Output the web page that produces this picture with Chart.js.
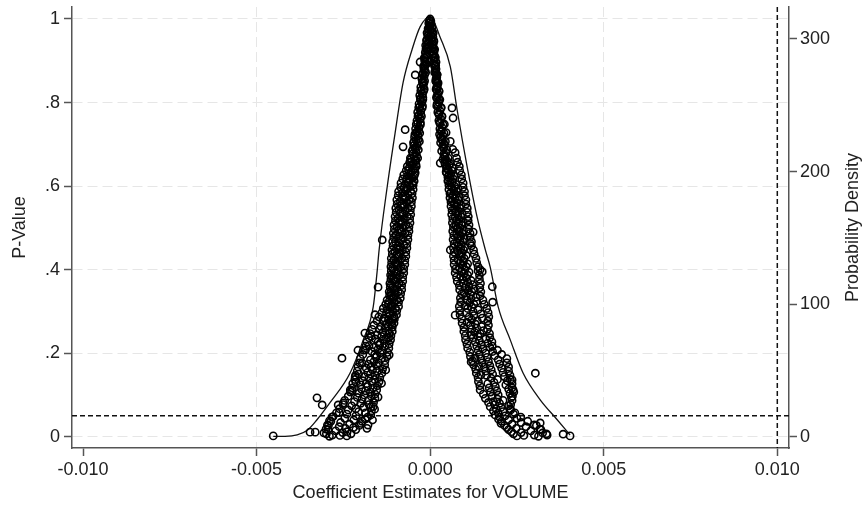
<!DOCTYPE html>
<html>
<head>
<meta charset="utf-8">
<title>P-values vs coefficient estimates</title>
<script src="https://cdn.jsdelivr.net/npm/chart.js@4/dist/chart.umd.min.js"></script>
<style>
  html, body { margin: 0; padding: 0; background: #fff; }
  #chart { display: block; }
</style>
</head>
<body>
<canvas id="chart" width="866" height="509"></canvas>
<script>
/** Bottom axis ticks */
const xTickValues = [-0.010, -0.005, 0, 0.005, 0.010];
const xTickLabels = ['-0.010', '-0.005', '0.000', '0.005', '0.010'];
/** Left axis (p-value) ticks */
const pTickValues = [0, 0.2, 0.4, 0.6, 0.8, 1];
const pTickLabels = ['0', '.2', '.4', '.6', '.8', '1'];
/** Right axis (density) ticks */
const densityTickValues = [0, 100, 200, 300];
const densityTickLabels = ['0', '100', '200', '300'];

/** Significance threshold and coefficient reference line */
const pThreshold = 0.05;
const coefReference = 0.010;

/** Estimates piled up at the top of the funnel, [coefficient, p-value] */
const apexPoints = [
  [0, 1.0], [-0.00002, 0.996], [0.00002, 0.995], [-0.00004, 0.990], [0.00003, 0.988], [-0.00001, 0.984],
  [0.00005, 0.980], [-0.00006, 0.977], [0.00001, 0.975], [0.00000, 0.992], [-0.00003, 0.981], [0.00002, 0.973]
];

/** Negative estimates, middle of the band, [coefficient, p-value] */
const leftBranch = [
  [-0.00005,0.970],[-0.00009,0.967],[-0.00007,0.960],[-0.00003,0.957],[-0.00010,0.950],[-0.00005,0.947],
  [-0.00008,0.940],[-0.00013,0.937],[-0.00011,0.930],[-0.00009,0.927],[-0.00014,0.920],[-0.00011,0.917],
  [-0.00012,0.910],[-0.00017,0.907],[-0.00016,0.900],[-0.00013,0.897],[-0.00014,0.890],[-0.00019,0.887],
  [-0.00018,0.880],[-0.00015,0.877],[-0.00021,0.870],[-0.00016,0.867],[-0.00018,0.860],[-0.00024,0.857],
  [-0.00022,0.850],[-0.00018,0.847],[-0.00020,0.840],[-0.00027,0.837],[-0.00025,0.830],[-0.00019,0.827],
  [-0.00022,0.820],[-0.00030,0.817],[-0.00028,0.810],[-0.00021,0.807],[-0.00024,0.800],[-0.00032,0.797],
  [-0.00030,0.790],[-0.00023,0.787],[-0.00027,0.780],[-0.00036,0.777],[-0.00033,0.770],[-0.00025,0.767],
  [-0.00029,0.760],[-0.00038,0.757],[-0.00036,0.750],[-0.00028,0.747],[-0.00032,0.740],[-0.00042,0.737],
  [-0.00038,0.730],[-0.00030,0.727],[-0.00044,0.724],[-0.00035,0.720],[-0.00045,0.717],
  [-0.00040,0.710],[-0.00031,0.707],[-0.00048,0.704],[-0.00037,0.700],[-0.00047,0.697],
  [-0.00043,0.690],[-0.00034,0.687],[-0.00052,0.684],[-0.00040,0.680],[-0.00050,0.677],
  [-0.00046,0.670],[-0.00036,0.667],[-0.00055,0.664],[-0.00043,0.660],[-0.00057,0.657],[-0.00049,0.654],
  [-0.00052,0.650],[-0.00040,0.647],[-0.00060,0.644],[-0.00048,0.640],[-0.00062,0.637],[-0.00055,0.634],
  [-0.00057,0.630],[-0.00045,0.627],[-0.00066,0.624],[-0.00052,0.620],[-0.00068,0.617],[-0.00060,0.614],
  [-0.00063,0.610],[-0.00050,0.607],[-0.00072,0.604],[-0.00058,0.600],[-0.00075,0.597],[-0.00066,0.594],
  [-0.00070,0.590],[-0.00056,0.587],[-0.00080,0.584],[-0.00064,0.580],[-0.00078,0.577],[-0.00072,0.574],
  [-0.00074,0.570],[-0.00060,0.567],[-0.00086,0.564],[-0.00068,0.560],[-0.00082,0.557],[-0.00077,0.554],
  [-0.00076,0.550],[-0.00064,0.547],[-0.00090,0.544],[-0.00072,0.540],[-0.00086,0.537],[-0.00080,0.534],
  [-0.00080,0.530],[-0.00066,0.527],[-0.00092,0.524],[-0.00074,0.520],[-0.00088,0.517],[-0.00082,0.514],
  [-0.00084,0.510],[-0.00070,0.507],[-0.00095,0.504],[-0.00078,0.500],[-0.00090,0.497],[-0.00086,0.494],
  [-0.00082,0.490],[-0.00072,0.487],[-0.00098,0.484],[-0.00088,0.480],[-0.00078,0.477],[-0.00094,0.474],
  [-0.00084,0.470],[-0.00100,0.467],[-0.00090,0.464],[-0.00076,0.460],[-0.00092,0.457],[-0.00086,0.454],
  [-0.00090,0.450],[-0.00080,0.447],[-0.00102,0.444],[-0.00086,0.440],[-0.00096,0.437],[-0.00092,0.434],
  [-0.00094,0.430],[-0.00082,0.427],[-0.00104,0.424],[-0.00088,0.420],[-0.00100,0.417],[-0.00096,0.414],
  [-0.00096,0.410],[-0.00085,0.407],[-0.00108,0.404],[-0.00092,0.400],[-0.00104,0.397],[-0.00098,0.394],
  [-0.00098,0.390],[-0.00088,0.387],[-0.00110,0.384],[-0.00094,0.380],[-0.00106,0.377],[-0.00102,0.374],
  [-0.00100,0.370],[-0.00090,0.367],[-0.00112,0.364],[-0.00096,0.360],[-0.00108,0.357],[-0.00104,0.354],
  [-0.00102,0.350],[-0.00092,0.347],[-0.00114,0.344],[-0.00100,0.340],[-0.00112,0.337],[-0.00108,0.334],
  [-0.00106,0.330],[-0.00096,0.327],[-0.00118,0.324],[-0.00104,0.320],[-0.00120,0.317],[-0.00112,0.314],
  [-0.00110,0.310],[-0.00100,0.307],[-0.00124,0.304],[-0.00108,0.300],[-0.00126,0.297],[-0.00118,0.294],
  [-0.00116,0.290],[-0.00104,0.287],[-0.00132,0.284],[-0.00120,0.280],[-0.00136,0.277],[-0.00112,0.274],
  [-0.00126,0.270],[-0.00110,0.267],[-0.00142,0.264],[-0.00130,0.260],[-0.00146,0.257],[-0.00120,0.254],
  [-0.00136,0.250],[-0.00118,0.247],[-0.00152,0.244],[-0.00140,0.240],[-0.00126,0.237],[-0.00158,0.234],
  [-0.00134,0.230],[-0.00150,0.227],[-0.00144,0.224],[-0.00146,0.220],[-0.00130,0.217],[-0.00162,0.214],
  [-0.00150,0.210],[-0.00138,0.207],[-0.00168,0.204],[-0.00144,0.200],[-0.00160,0.197],[-0.00154,0.194],
  [-0.00156,0.190],[-0.00140,0.187],[-0.00172,0.184],[-0.00162,0.180],[-0.00148,0.177],[-0.00178,0.174],
  [-0.00154,0.170],[-0.00170,0.167],[-0.00184,0.164],[-0.00166,0.160],[-0.00152,0.157],[-0.00180,0.154],
  [-0.00172,0.150],[-0.00158,0.147],[-0.00190,0.144],[-0.00176,0.140],[-0.00160,0.137],[-0.00194,0.134],
  [-0.00168,0.130],[-0.00184,0.127],[-0.00200,0.124],[-0.00180,0.120],[-0.00164,0.117],[-0.00198,0.114],
  [-0.00186,0.110],[-0.00172,0.107],[-0.00206,0.104],[-0.00190,0.100],[-0.00170,0.097],[-0.00210,0.094],
  [-0.00196,0.090],[-0.00178,0.087],[-0.00218,0.084],[-0.00200,0.080],[-0.00176,0.077],[-0.00226,0.074],
  [-0.00250,0.081],[-0.00192,0.070],[-0.00214,0.067],[-0.00236,0.064],[-0.00170,0.072],
  [-0.00206,0.060],[-0.00186,0.057],[-0.00240,0.054],[-0.00262,0.058],
  [-0.00214,0.050],[-0.00180,0.047],[-0.00246,0.044],[-0.00280,0.048],
  [-0.00220,0.040],[-0.00196,0.037],[-0.00258,0.034],[-0.00290,0.038],
  [-0.00232,0.030],[-0.00204,0.027],[-0.00262,0.024],[-0.00296,0.028],
  [-0.00244,0.020],[-0.00214,0.017],[-0.00272,0.014],[-0.00300,0.018],
  [-0.00252,0.010],[-0.00228,0.007],[-0.00282,0.004],[-0.00306,0.009],
  [-0.00260,0.003],[-0.00240,0.002],[-0.00290,0.001],
  [-0.00120,0.236],[-0.00118,0.196],[-0.00186,0.208],[-0.00196,0.176],[-0.00128,0.160],[-0.00206,0.150],
  [-0.00140,0.128],[-0.00150,0.095],[-0.00214,0.130],[-0.00224,0.110],[-0.00160,0.066],[-0.00166,0.040],
  [-0.00182,0.020],[-0.00120,0.265],[-0.00108,0.282],[-0.00170,0.240],[-0.00176,0.218]
];

/** Negative estimates along the inner and outer edge of the band */
const leftEdges = [
  [-0.00003,0.952],[-0.00010,0.948],[-0.00006,0.932],[-0.00012,0.928],[-0.00008,0.912],[-0.00015,0.907],
  [-0.00011,0.892],[-0.00016,0.888],[-0.00013,0.872],[-0.00021,0.867],[-0.00016,0.852],[-0.00022,0.848],
  [-0.00017,0.832],[-0.00027,0.828],[-0.00021,0.812],[-0.00028,0.807],[-0.00022,0.792],[-0.00033,0.788],
  [-0.00027,0.772],[-0.00035,0.767],[-0.00028,0.752],[-0.00040,0.748],[-0.00033,0.732],[-0.00041,0.728],
  [-0.00034,0.712],[-0.00046,0.707],[-0.00039,0.692],[-0.00049,0.688],[-0.00039,0.672],[-0.00057,0.667],
  [-0.00041,0.662],[-0.00059,0.657],[-0.00041,0.652],[-0.00066,0.647],[-0.00044,0.642],[-0.00069,0.637],
  [-0.00043,0.632],[-0.00076,0.627],[-0.00047,0.622],[-0.00079,0.617],[-0.00046,0.612],[-0.00084,0.607],
  [-0.00049,0.602],[-0.00085,0.597],[-0.00049,0.592],[-0.00091,0.587],[-0.00052,0.582],[-0.00092,0.577],
  [-0.00051,0.572],[-0.00096,0.567],[-0.00054,0.562],[-0.00095,0.557],[-0.00054,0.552],[-0.00099,0.547],
  [-0.00057,0.542],[-0.00098,0.537],[-0.00056,0.532],[-0.00101,0.527],[-0.00059,0.522],[-0.00100,0.517],
  [-0.00058,0.512],[-0.00104,0.507],[-0.00061,0.502],[-0.00103,0.497],[-0.00061,0.492],[-0.00106,0.487],
  [-0.00064,0.482],[-0.00105,0.477],[-0.00064,0.472],[-0.00108,0.467],[-0.00067,0.462],[-0.00107,0.457],
  [-0.00067,0.452],[-0.00110,0.447],[-0.00070,0.442],[-0.00109,0.437],[-0.00070,0.432],[-0.00112,0.427],
  [-0.00073,0.422],[-0.00111,0.417],[-0.00073,0.412],[-0.00113,0.407],[-0.00076,0.402],[-0.00112,0.397],
  [-0.00076,0.392],[-0.00114,0.387],[-0.00079,0.382],[-0.00113,0.377],[-0.00079,0.372],[-0.00116,0.367],
  [-0.00082,0.362],[-0.00115,0.357],[-0.00082,0.352],[-0.00118,0.347],[-0.00085,0.342],[-0.00117,0.337],
  [-0.00086,0.332],[-0.00124,0.327],[-0.00091,0.322],[-0.00128,0.317],[-0.00091,0.312],[-0.00135,0.307],
  [-0.00096,0.302],[-0.00139,0.297],[-0.00097,0.292],[-0.00148,0.287],[-0.00103,0.282],[-0.00153,0.277],
  [-0.00104,0.272],[-0.00162,0.267],[-0.00109,0.262],[-0.00167,0.257],[-0.00109,0.252],[-0.00173,0.247],
  [-0.00113,0.242],[-0.00176,0.237],[-0.00114,0.232],[-0.00182,0.227],[-0.00118,0.222],[-0.00185,0.217],
  [-0.00119,0.212],[-0.00192,0.207],[-0.00123,0.202],[-0.00194,0.197],[-0.00124,0.192],[-0.00201,0.187],
  [-0.00130,0.182],[-0.00203,0.177],[-0.00131,0.172],[-0.00208,0.167],[-0.00137,0.162],[-0.00210,0.157],
  [-0.00139,0.152],[-0.00215,0.147],[-0.00145,0.142],[-0.00217,0.137],[-0.00147,0.132],[-0.00223,0.127],
  [-0.00152,0.122],[-0.00224,0.117],[-0.00154,0.112],[-0.00230,0.107],[-0.00159,0.102],[-0.00236,0.097],
  [-0.00159,0.092],[-0.00246,0.087],[-0.00163,0.082],[-0.00251,0.077],[-0.00164,0.072],[-0.00261,0.067],
  [-0.00169,0.062],[-0.00270,0.057],[-0.00171,0.052],[-0.00283,0.047],[-0.00187,0.042],[-0.00286,0.037],
  [-0.00199,0.032],[-0.00293,0.027],[-0.00221,0.022],[-0.00294,0.017],[-0.00239,0.012],[-0.00299,0.007]
];

/** Positive estimates, middle of the band, [coefficient, p-value] */
const rightBranch = [
  [0.00005,0.970],[0.00009,0.967],[0.00003,0.960],[0.00008,0.957],[0.00006,0.950],[0.00011,0.947],
  [0.00009,0.940],[0.00007,0.937],[0.00008,0.930],[0.00013,0.927],[0.00011,0.920],[0.00009,0.917],
  [0.00014,0.910],[0.00011,0.907],[0.00012,0.900],[0.00017,0.897],[0.00015,0.890],[0.00013,0.887],
  [0.00017,0.880],[0.00015,0.877],[0.00016,0.870],[0.00020,0.867],[0.00019,0.860],[0.00017,0.857],
  [0.00017,0.850],[0.00023,0.847],[0.00021,0.840],[0.00019,0.837],[0.00019,0.830],[0.00026,0.827],
  [0.00023,0.820],[0.00020,0.817],[0.00021,0.810],[0.00028,0.807],[0.00025,0.800],[0.00020,0.797],
  [0.00023,0.790],[0.00031,0.787],[0.00028,0.780],[0.00022,0.777],[0.00026,0.770],[0.00034,0.767],
  [0.00031,0.760],[0.00025,0.757],[0.00029,0.750],[0.00037,0.747],[0.00034,0.740],[0.00028,0.737],
  [0.00032,0.730],[0.00040,0.727],[0.00027,0.724],[0.00037,0.720],[0.00030,0.717],
  [0.00035,0.710],[0.00044,0.707],[0.00030,0.704],[0.00041,0.700],[0.00036,0.697],
  [0.00039,0.690],[0.00048,0.687],[0.00033,0.684],[0.00045,0.680],[0.00040,0.677],
  [0.00043,0.670],[0.00052,0.667],[0.00037,0.664],[0.00049,0.660],[0.00042,0.657],[0.00057,0.654],
  [0.00055,0.650],[0.00048,0.647],[0.00064,0.644],[0.00052,0.640],[0.00062,0.637],[0.00046,0.634],
  [0.00060,0.630],[0.00054,0.627],[0.00068,0.624],[0.00058,0.620],[0.00066,0.617],[0.00052,0.614],
  [0.00064,0.610],[0.00058,0.607],[0.00074,0.604],[0.00070,0.600],[0.00062,0.597],[0.00080,0.594],
  [0.00068,0.590],[0.00076,0.587],[0.00060,0.584],[0.00074,0.580],[0.00066,0.577],[0.00084,0.574],
  [0.00072,0.570],[0.00080,0.567],[0.00064,0.564],[0.00078,0.560],[0.00070,0.557],[0.00088,0.554],
  [0.00076,0.550],[0.00086,0.547],[0.00070,0.544],[0.00082,0.540],[0.00074,0.537],[0.00092,0.534],
  [0.00080,0.530],[0.00088,0.527],[0.00072,0.524],[0.00084,0.520],[0.00076,0.517],[0.00094,0.514],
  [0.00082,0.510],[0.00090,0.507],[0.00074,0.504],[0.00086,0.500],[0.00078,0.497],[0.00096,0.494],
  [0.00084,0.490],[0.00092,0.487],[0.00076,0.484],[0.00088,0.480],[0.00080,0.477],[0.00098,0.474],
  [0.00086,0.470],[0.00094,0.467],[0.00078,0.464],[0.00090,0.460],[0.00082,0.457],[0.00100,0.454],
  [0.00088,0.450],[0.00096,0.447],[0.00080,0.444],[0.00092,0.440],[0.00084,0.437],[0.00104,0.434],
  [0.00090,0.430],[0.00098,0.427],[0.00080,0.424],[0.00096,0.420],[0.00086,0.417],[0.00108,0.414],
  [0.00094,0.410],[0.00104,0.407],[0.00084,0.404],[0.00100,0.400],[0.00090,0.397],[0.00112,0.394],
  [0.00098,0.390],[0.00108,0.387],[0.00088,0.384],[0.00104,0.380],[0.00094,0.377],[0.00118,0.374],
  [0.00108,0.370],[0.00096,0.367],[0.00122,0.364],[0.00112,0.360],[0.00100,0.357],[0.00126,0.354],
  [0.00110,0.350],[0.00120,0.347],[0.00098,0.344],[0.00116,0.340],[0.00104,0.337],[0.00132,0.334],
  [0.00118,0.330],[0.00106,0.327],[0.00134,0.324],[0.00114,0.320],[0.00126,0.317],[0.00100,0.314],
  [0.00120,0.310],[0.00108,0.307],[0.00138,0.304],[0.00124,0.300],[0.00104,0.297],[0.00146,0.294],
  [0.00126,0.290],[0.00112,0.287],[0.00150,0.284],[0.00120,0.280],[0.00136,0.277],[0.00106,0.274],
  [0.00130,0.270],[0.00116,0.267],[0.00148,0.264],[0.00134,0.260],[0.00120,0.257],[0.00154,0.254],
  [0.00128,0.250],[0.00144,0.247],[0.00118,0.244],[0.00138,0.240],[0.00124,0.237],[0.00160,0.234],
  [0.00142,0.230],[0.00130,0.227],[0.00166,0.224],[0.00148,0.220],[0.00134,0.217],[0.00172,0.214],
  [0.00152,0.210],[0.00138,0.207],[0.00180,0.204],[0.00160,0.200],[0.00142,0.197],[0.00186,0.194],
  [0.00164,0.190],[0.00146,0.187],[0.00196,0.184],[0.00130,0.188],
  [0.00168,0.180],[0.00150,0.177],[0.00200,0.174],
  [0.00172,0.170],[0.00156,0.167],[0.00206,0.164],[0.00140,0.168],
  [0.00176,0.160],[0.00160,0.157],[0.00210,0.154],
  [0.00180,0.150],[0.00162,0.147],[0.00214,0.144],[0.00146,0.148],
  [0.00176,0.140],[0.00194,0.137],[0.00222,0.134],[0.00184,0.130],[0.00166,0.127],[0.00218,0.124],
  [0.00188,0.120],[0.00170,0.117],[0.00226,0.114],[0.00192,0.110],[0.00174,0.107],[0.00230,0.104],
  [0.00196,0.100],[0.00178,0.097],[0.00234,0.094],[0.00194,0.090],[0.00210,0.087],[0.00182,0.084],
  [0.00200,0.080],[0.00186,0.077],[0.00226,0.074],[0.00204,0.070],[0.00190,0.067],[0.00232,0.064],
  [0.00210,0.060],[0.00196,0.057],[0.00240,0.054],[0.00216,0.050],[0.00200,0.047],[0.00250,0.044],
  [0.00226,0.040],[0.00206,0.037],[0.00262,0.034],
  [0.00236,0.030],[0.00214,0.027],[0.00276,0.024],[0.00300,0.028],
  [0.00248,0.020],[0.00226,0.017],[0.00290,0.014],[0.00316,0.018],
  [0.00262,0.010],[0.00240,0.007],[0.00300,0.004],[0.00324,0.009],
  [0.00270,0.003],[0.00250,0.002],[0.00312,0.001]
];

/** Positive estimates along the inner and outer edge of the band */
const rightEdges = [
  [0.00003,0.952],[0.00010,0.948],[0.00006,0.932],[0.00011,0.928],[0.00008,0.912],[0.00015,0.907],
  [0.00011,0.892],[0.00016,0.888],[0.00013,0.872],[0.00020,0.867],[0.00016,0.852],[0.00020,0.848],
  [0.00017,0.832],[0.00025,0.828],[0.00018,0.812],[0.00026,0.807],[0.00019,0.792],[0.00032,0.788],
  [0.00025,0.772],[0.00034,0.767],[0.00027,0.752],[0.00041,0.748],[0.00032,0.732],[0.00046,0.728],
  [0.00033,0.712],[0.00058,0.707],[0.00039,0.692],[0.00065,0.688],[0.00040,0.672],[0.00076,0.667],
  [0.00043,0.662],[0.00079,0.657],[0.00043,0.652],[0.00084,0.647],[0.00047,0.642],[0.00085,0.637],
  [0.00047,0.632],[0.00090,0.627],[0.00051,0.622],[0.00091,0.617],[0.00051,0.612],[0.00095,0.607],
  [0.00054,0.602],[0.00095,0.597],[0.00054,0.592],[0.00099,0.587],[0.00057,0.582],[0.00099,0.577],
  [0.00057,0.572],[0.00103,0.567],[0.00060,0.562],[0.00103,0.557],[0.00060,0.552],[0.00107,0.547],
  [0.00063,0.542],[0.00107,0.537],[0.00062,0.532],[0.00110,0.527],[0.00065,0.522],[0.00109,0.517],
  [0.00064,0.512],[0.00112,0.507],[0.00067,0.502],[0.00111,0.497],[0.00065,0.492],[0.00115,0.487],
  [0.00068,0.482],[0.00115,0.477],[0.00066,0.472],[0.00119,0.467],[0.00069,0.462],[0.00119,0.457],
  [0.00067,0.452],[0.00125,0.447],[0.00069,0.442],[0.00127,0.437],[0.00067,0.432],[0.00132,0.427],
  [0.00069,0.422],[0.00134,0.417],[0.00069,0.412],[0.00138,0.407],[0.00073,0.402],[0.00138,0.397],
  [0.00072,0.392],[0.00142,0.387],[0.00076,0.382],[0.00142,0.377],[0.00078,0.372],[0.00145,0.367],
  [0.00084,0.362],[0.00143,0.357],[0.00085,0.352],[0.00146,0.347],[0.00091,0.342],[0.00144,0.337],
  [0.00087,0.332],[0.00152,0.327],[0.00088,0.322],[0.00156,0.317],[0.00084,0.312],[0.00163,0.307],
  [0.00085,0.302],[0.00167,0.297],[0.00086,0.292],[0.00169,0.287],[0.00091,0.282],[0.00166,0.277],
  [0.00092,0.272],[0.00168,0.267],[0.00097,0.262],[0.00165,0.257],[0.00097,0.252],[0.00171,0.247],
  [0.00101,0.242],[0.00172,0.237],[0.00102,0.232],[0.00178,0.227],[0.00106,0.222],[0.00179,0.217],
  [0.00108,0.212],[0.00194,0.207],[0.00114,0.202],[0.00206,0.197],[0.00116,0.192],[0.00221,0.187],
  [0.00122,0.182],[0.00221,0.177],[0.00125,0.172],[0.00226,0.167],[0.00131,0.162],[0.00226,0.157],
  [0.00133,0.152],[0.00230,0.147],[0.00138,0.142],[0.00231,0.137],[0.00139,0.132],[0.00236,0.127],
  [0.00143,0.122],[0.00236,0.117],[0.00144,0.112],[0.00241,0.107],[0.00153,0.102],[0.00237,0.097],
  [0.00159,0.092],[0.00236,0.087],[0.00168,0.082],[0.00232,0.077],[0.00173,0.072],[0.00231,0.067],
  [0.00182,0.062],[0.00244,0.057],[0.00187,0.052],[0.00261,0.047],[0.00197,0.042],[0.00281,0.037],
  [0.00204,0.032],[0.00306,0.027],[0.00221,0.022],[0.00319,0.017],[0.00234,0.012],[0.00335,0.007]
];

/** Stray estimates away from the two main bands */
const outliers = [
  [-0.00254,0.188],[-0.00326,0.093],[-0.00311,0.076],[-0.00346,0.011],[-0.00331,0.011],[-0.00452,0.002],
  [-0.00150,0.358],[-0.00138,0.471],[-0.00043,0.866],[-0.00029,0.897],[-0.00072,0.735],[-0.00078,0.694],
  [-0.00159,0.292],[-0.00188,0.248],[-0.00208,0.207],[-0.00216,0.143],[-0.00230,0.112],[-0.00265,0.076],
  [-0.00179,0.028],
  [0.00179,0.359],[0.00303,0.152],[0.00383,0.006],[0.00403,0.002],[0.00063,0.787],[0.00066,0.763],
  [0.00072,0.680],[0.00072,0.291],[0.00180,0.322],[0.00118,0.179],[0.00236,0.136],[0.00239,0.112],
  [0.00317,0.033],[0.00337,0.004],[0.00029,0.655],[0.00109,0.518],[0.00124,0.490],[0.00115,0.463],
  [0.00058,0.447],[0.00144,0.400],[0.00150,0.395]
];

/** Kernel density of the estimates (right axis) */
const densityX = [
  -0.00452, -0.00418, -0.00383, -0.00354, -0.00326, -0.00288, -0.00231, -0.00193, -0.00164, -0.00153,
  -0.00147, -0.00124, -0.00101, -0.00078, -0.00052, -0.00029, 0.00000, 0.00029, 0.00058, 0.00078,
  0.00107, 0.00135, 0.00159, 0.00173, 0.00196, 0.00231, 0.00268, 0.00317, 0.00366, 0.00403
];
const densityY = [
  0.5, 0.5, 1.5, 5, 13, 26, 48, 73, 98, 124,
  141, 188, 229, 267, 292, 309, 317, 301, 279, 246,
  203, 166, 141, 128, 98, 73, 48, 28, 13, 1.5
];

const FONT = "'Liberation Sans', Arial, Helvetica, sans-serif";
const AXIS_COLOR = '#555';
const TEXT_COLOR = '#222';
const GRID_COLOR = '#e6e6e6';

Chart.defaults.font.family = FONT;
Chart.defaults.font.size = 18;
Chart.defaults.color = TEXT_COLOR;

const toPoints = (pairs) => pairs.map(([x, y]) => ({x, y}));

const fixedTicks = (values) => (axis) => {
  axis.ticks = values.map(value => ({value}));
};

const labelFor = (values, labels) => (value) => labels[values.indexOf(value)];

/** Dashed reference lines and the right hand title */
const guideLines = {
  id: 'guideLines',
  beforeDatasetsDraw(chart) {
    const {ctx, chartArea, scales} = chart;
    const yPix = scales.y.getPixelForValue(pThreshold);
    const xPix = scales.x.getPixelForValue(coefReference);
    ctx.save();
    ctx.strokeStyle = '#111';
    ctx.lineWidth = 1.5;
    ctx.setLineDash([5, 3]);
    ctx.beginPath();
    ctx.moveTo(chartArea.left, yPix);
    ctx.lineTo(chartArea.right, yPix);
    ctx.moveTo(xPix, chartArea.top);
    ctx.lineTo(xPix, chartArea.bottom);
    ctx.stroke();
    ctx.restore();
  },
  afterDraw(chart) {
    const {ctx, chartArea} = chart;
    ctx.save();
    ctx.translate(853, (chartArea.top + chartArea.bottom) / 2);
    ctx.rotate(-Math.PI / 2);
    ctx.font = `18px ${FONT}`;
    ctx.fillStyle = TEXT_COLOR;
    ctx.textAlign = 'center';
    ctx.textBaseline = 'middle';
    ctx.fillText('Probability Density', 0, 0);
    ctx.restore();
  }
};

new Chart(document.getElementById('chart'), {
  type: 'scatter',
  data: {
    datasets: [{
      label: 'Estimates',
      data: toPoints([...apexPoints, ...leftBranch, ...leftEdges, ...rightBranch, ...rightEdges, ...outliers]),
      yAxisID: 'y',
      pointStyle: 'circle',
      pointRadius: 3.6,
      pointBorderWidth: 1.6,
      pointBorderColor: '#000',
      pointBackgroundColor: 'rgba(0,0,0,0)',
      showLine: false,
    }, {
      label: 'Density',
      data: densityX.map((x, i) => ({x, y: densityY[i]})),
      yAxisID: 'y2',
      showLine: true,
      pointRadius: 0,
      borderColor: '#111',
      borderWidth: 1.3,
      cubicInterpolationMode: 'monotone',
    }]
  },
  options: {
    responsive: false,
    animation: false,
    devicePixelRatio: 1,
    layout: {padding: {top: 7, left: 0, right: 0, bottom: 0}},
    plugins: {
      legend: {display: false},
      tooltip: {enabled: false},
    },
    scales: {
      x: {
        type: 'linear',
        position: 'bottom',
        min: -0.010317,
        max: 0.010337,
        afterBuildTicks: fixedTicks(xTickValues),
        afterFit: (scale) => {
          scale.height = 61;
          scale.paddingLeft = 0;
          scale.paddingRight = 0;
        },
        ticks: {
          padding: 3,
          maxRotation: 0,
          autoSkip: false,
          callback: labelFor(xTickValues, xTickLabels),
        },
        grid: {
          color: (ctx) => (ctx.tick && Math.abs(ctx.tick.value) > 0.009) ? 'rgba(0,0,0,0)' : GRID_COLOR,
          lineWidth: 1,
          tickLength: 8,
          tickWidth: 1.5,
          tickColor: AXIS_COLOR,
        },
        border: {color: AXIS_COLOR, width: 1.5, dash: [10, 5]},
        title: {
          display: true,
          text: 'Coefficient Estimates for VOLUME',
          font: {size: 18},
          padding: {top: 0, bottom: 5},
        },
      },
      y: {
        type: 'linear',
        position: 'left',
        min: -0.027,
        max: 1.0287,
        afterBuildTicks: fixedTicks(pTickValues),
        afterFit: (scale) => {
          scale.width = 72;
          scale.paddingTop = 0;
          scale.paddingBottom = 0;
        },
        ticks: {
          padding: 4,
          autoSkip: false,
          callback: labelFor(pTickValues, pTickLabels),
        },
        grid: {
          color: GRID_COLOR,
          lineWidth: 1,
          tickLength: 8,
          tickWidth: 1.5,
          tickColor: AXIS_COLOR,
        },
        border: {color: AXIS_COLOR, width: 1.5, dash: [10, 5]},
        title: {
          display: true,
          text: 'P-Value',
          font: {size: 18},
          padding: {top: 9, bottom: 0},
        },
      },
      y2: {
        type: 'linear',
        position: 'right',
        min: -8.3,
        max: 324,
        afterBuildTicks: fixedTicks(densityTickValues),
        afterFit: (scale) => {
          scale.width = 77;
          scale.paddingTop = 0;
          scale.paddingBottom = 0;
        },
        ticks: {
          padding: 3,
          autoSkip: false,
          callback: labelFor(densityTickValues, densityTickLabels),
        },
        grid: {
          drawOnChartArea: false,
          tickLength: 8,
          tickWidth: 1.5,
          tickColor: AXIS_COLOR,
        },
        border: {color: AXIS_COLOR, width: 1.5},
      },
    },
  },
  plugins: [guideLines],
});
</script>
</body>
</html>
